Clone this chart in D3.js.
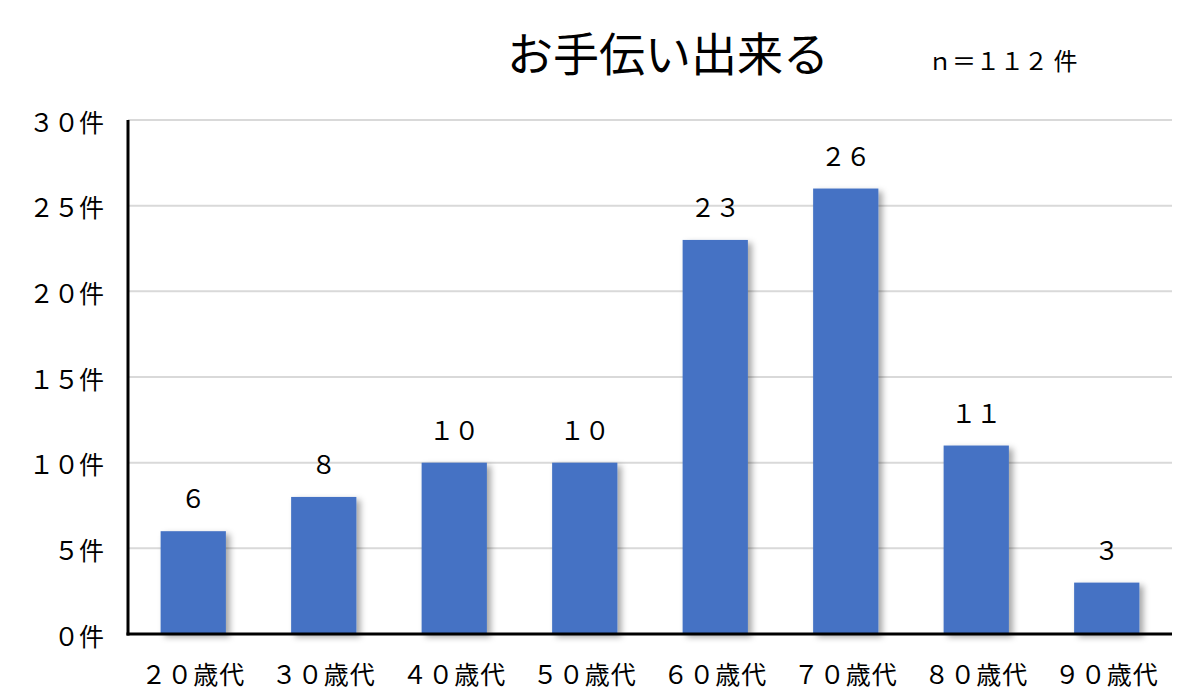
<!DOCTYPE html>
<html>
<head>
<meta charset="utf-8">
<script src="https://cdn.jsdelivr.net/npm/d3@7"></script>
<style>
    body { margin: 0; background: #fff; }
    text { font-family: "Noto Sans CJK JP", "Noto Sans", sans-serif; font-weight: 400; fill: #000; }
</style>
</head>
<body>
<svg id="svg"></svg>
<script>
// chart data
const categories = ['２０歳代', '３０歳代', '４０歳代', '５０歳代', '６０歳代', '７０歳代', '８０歳代', '９０歳代'];
const values = [6, 8, 10, 10, 23, 26, 11, 3];
const valueLabels = ['６', '８', '１０', '１０', '２３', '２６', '１１', '３'];
const yTicks = [0, 5, 10, 15, 20, 25, 30];
const yTickLabels = ['０件', '５件', '１０件', '１５件', '２０件', '２５件', '３０件'];
const title = 'お手伝い出来る';
const subtitle = 'ｎ＝１１２ 件';

const width = 1186, height = 699;
const margin = {top: 120, left: 128, right: 14, bottom: 65};
const innerW = width - margin.left - margin.right;
const innerH = height - margin.top - margin.bottom;

const svg = d3.select('#svg')
    .attr('width', width)
    .attr('height', height);

const defs = svg.append('defs');
const shadow = defs.append('filter')
    .attr('id', 'shadow')
    .attr('x', '-20%').attr('y', '-20%')
    .attr('width', '150%').attr('height', '150%');
shadow.append('feDropShadow')
    .attr('dx', 4).attr('dy', 3)
    .attr('stdDeviation', 3)
    .attr('flood-color', '#000')
    .attr('flood-opacity', 0.35);

const g = svg.append('g')
    .attr('transform', 'translate(' + margin.left + ',' + margin.top + ')');

const x = d3.scaleBand()
    .domain(categories)
    .range([0, innerW])
    .paddingInner(0.5)
    .paddingOuter(0.25);

const y = d3.scaleLinear()
    .domain([0, 30])
    .range([innerH, 0]);

// gridlines
g.append('g')
    .selectAll('line')
    .data(yTicks.filter(d => d > 0))
    .join('line')
    .attr('x1', 0)
    .attr('x2', innerW)
    .attr('y1', d => y(d))
    .attr('y2', d => y(d))
    .attr('stroke', '#d9d9d9')
    .attr('stroke-width', 2);

// bars
g.append('g')
    .selectAll('rect')
    .data(values)
    .join('rect')
    .attr('x', (d, i) => x(categories[i]))
    .attr('y', d => y(d))
    .attr('width', x.bandwidth())
    .attr('height', d => innerH - y(d))
    .attr('fill', '#4472c4')
    .attr('filter', 'url(#shadow)');

// value labels
g.append('g')
    .selectAll('text')
    .data(values)
    .join('text')
    .attr('x', (d, i) => x(categories[i]) + x.bandwidth() / 2)
    .attr('y', d => y(d) - 23)
    .attr('text-anchor', 'middle')
    .attr('font-size', 25)
    .text((d, i) => valueLabels[i]);

// y axis
const yAxis = d3.axisLeft(y)
    .tickValues(yTicks)
    .tickSize(0)
    .tickPadding(24)
    .tickFormat((d, i) => yTickLabels[i]);

const domY = g.append('g').call(yAxis);
domY.select('.domain').remove();
domY.selectAll('text')
    .attr('font-size', 25)
    .attr('dy', 11)
    .attr('font-family', '"Noto Sans CJK JP", sans-serif')
    .attr('fill', '#000');

// x axis
const xAxis = d3.axisBottom(x)
    .tickSize(0)
    .tickPadding(0);

const domX = g.append('g')
    .attr('transform', 'translate(0,' + innerH + ')')
    .call(xAxis);
domX.select('.domain').remove();
domX.selectAll('text')
    .attr('font-size', 25)
    .attr('dy', 50)
    .attr('letter-spacing', 1)
    .attr('font-family', '"Noto Sans CJK JP", sans-serif')
    .attr('fill', '#000');

// axis lines
g.append('line')
    .attr('x1', 0).attr('x2', 0)
    .attr('y1', 0).attr('y2', innerH + 1.5)
    .attr('stroke', '#000')
    .attr('stroke-width', 3);
g.append('line')
    .attr('x1', -1.5).attr('x2', innerW)
    .attr('y1', innerH).attr('y2', innerH)
    .attr('stroke', '#000')
    .attr('stroke-width', 3);

// titles
svg.append('text')
    .attr('x', 668)
    .attr('y', 71)
    .attr('text-anchor', 'middle')
    .attr('font-size', 46)
    .text(title);

svg.append('text')
    .attr('x', 928)
    .attr('y', 70)
    .attr('font-size', 24)
    .text(subtitle);
</script>
</body>
</html>
